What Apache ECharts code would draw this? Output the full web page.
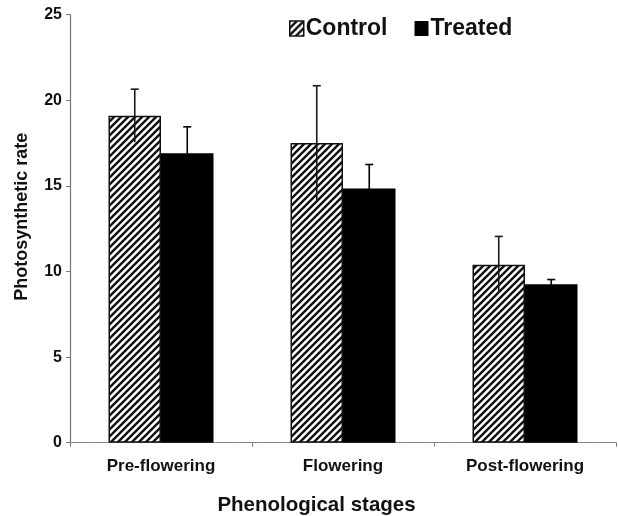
<!DOCTYPE html>
<html>
<head>
<meta charset="utf-8">
<script src="https://cdn.jsdelivr.net/npm/echarts@6/dist/echarts.min.js"></script>
<style>
html, body { margin: 0; padding: 0; background: #fff; }
#main { width: 618px; height: 516px; }
</style>
</head>
<body>
<div id="main"></div>
<script>
var stages = ['Pre-flowering', 'Flowering', 'Post-flowering'];
var controlMean = [19.1, 17.5, 10.4];
var controlSd = [1.55, 3.35, 1.65];
var treatedMean = [16.9, 14.85, 9.25];
var treatedSd = [1.55, 1.4, 0.28];
var yTicks = [0, 5, 10, 15, 20, 25];

var barW = 52.5;
var fontFam = '"Liberation Sans", Arial, sans-serif';

// diagonal hatch for the control bars
function makeHatch() {
    var s = 7;
    var cv = document.createElement('canvas');
    cv.width = s; cv.height = s;
    var ctx = cv.getContext('2d');
    ctx.fillStyle = '#fff';
    ctx.fillRect(0, 0, s, s);
    ctx.strokeStyle = '#111';
    ctx.lineWidth = 2.4;
    ctx.beginPath();
    ctx.moveTo(0, s); ctx.lineTo(s, 0);
    ctx.moveTo(-1, 1); ctx.lineTo(1, -1);
    ctx.moveTo(s - 1, s + 1); ctx.lineTo(s + 1, s - 1);
    ctx.stroke();
    return cv;
}
var hatch = {image: makeHatch(), repeat: 'repeat'};

function errData(means, sds) {
    var out = [];
    for (var i = 0; i < means.length; i++) {
        out.push([i, means[i], sds[i]]);
    }
    return out;
}

function errRender(side) {
    return function (params, api) {
        var i = api.value(0);
        var m = api.value(1);
        var sd = api.value(2);
        var top = api.coord([i, m + sd]);
        var bot = api.coord([i, m - sd]);
        var x = top[0] + side * barW / 2;
        var style = {stroke: side < 0 ? '#1a1a1a' : '#000', lineWidth: 1.6};
        return {
            type: 'group',
            children: [
                {type: 'line', shape: {x1: x, y1: bot[1], x2: x, y2: top[1]}, style: style},
                {type: 'line', shape: {x1: x - 4, y1: top[1], x2: x + 4, y2: top[1]}, style: style}
            ]
        };
    };
}

var chart = echarts.init(document.getElementById('main'));
var option = {
    animation: false,
    backgroundColor: '#fff',
    textStyle: {fontFamily: fontFam},
    grid: {left: 70, right: 2, top: 14.7, bottom: 73.3, outerBoundsMode: 'none'},
    legend: {
        left: 289,
        top: 17,
        padding: 0,
        itemWidth: 14,
        itemHeight: 15,
        itemGap: 27,
        textStyle: {fontFamily: fontFam, fontSize: 23, fontWeight: 'bold', color: '#111', padding: [0, 0, 0, -3]},
        data: [
            {name: 'Control', icon: 'rect', itemStyle: {borderColor: '#111', borderWidth: 1.5}},
            {name: 'Treated', icon: 'rect'}
        ]
    },
    xAxis: {
        type: 'category',
        data: stages,
        name: 'Phenological stages',
        nameLocation: 'middle',
        nameGap: 52,
        nameTextStyle: {fontFamily: fontFam, fontSize: 20.5, fontWeight: 'bold', color: '#111', padding: [0, 53, 0, 0]},
        axisLine: {lineStyle: {color: '#777', type: 'dotted', width: 1.2}},
        axisTick: {show: true, length: 4, lineStyle: {color: '#777'}},
        axisLabel: {fontFamily: fontFam, fontSize: 17, fontWeight: 'bold', color: '#111', margin: 15}
    },
    yAxis: {
        type: 'value',
        min: 0,
        max: 25,
        interval: 5,
        name: 'Photosynthetic rate',
        nameLocation: 'middle',
        nameGap: 39,
        nameTextStyle: {fontFamily: fontFam, fontSize: 18, fontWeight: 'bold', color: '#111', padding: [0, 0, 0, 24]},
        axisLine: {show: true, lineStyle: {color: '#777', width: 1.2}},
        axisTick: {show: true, length: 4, lineStyle: {color: '#777'}},
        splitLine: {show: false},
        axisLabel: {fontFamily: fontFam, fontSize: 16, fontWeight: 'bold', color: '#111', margin: 8,
            formatter: function (v) { return yTicks.indexOf(v) >= 0 ? String(v) : ''; }}
    },
    series: [
        {
            name: 'Control',
            type: 'bar',
            data: controlMean,
            barWidth: barW,
            barGap: '0%',
            itemStyle: {color: hatch, borderColor: '#111', borderWidth: 1.5}
        },
        {
            name: 'Treated',
            type: 'bar',
            data: treatedMean,
            barWidth: barW,
            barGap: '0%',
            itemStyle: {color: '#000'}
        },
        {
            name: 'Control SD',
            type: 'custom',
            data: errData(controlMean, controlSd),
            renderItem: errRender(-1),
            encode: {x: 0, y: 1},
            z: 5
        },
        {
            name: 'Treated SD',
            type: 'custom',
            data: errData(treatedMean, treatedSd),
            renderItem: errRender(1),
            encode: {x: 0, y: 1},
            z: 5
        }
    ]
};
chart.setOption(option);
</script>
</body>
</html>
